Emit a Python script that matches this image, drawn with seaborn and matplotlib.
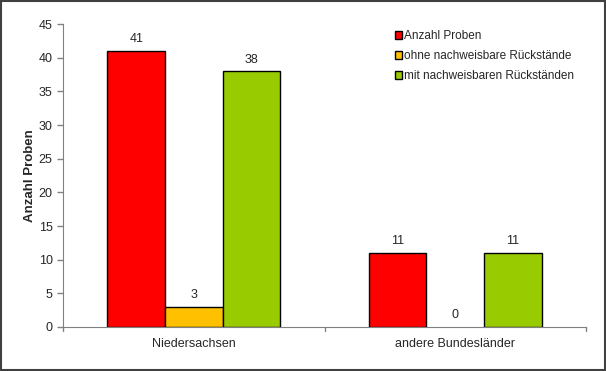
import matplotlib.pyplot as plt
import pandas as pd
import seaborn as sns

regions = ["Niedersachsen", "andere Bundesländer"]
series = ["Anzahl Proben", "ohne nachweisbare Rückstände", "mit nachweisbaren Rückständen"]
anzahl = [41, 11]
ohne = [3, 0]
mit = [38, 11]
colors = ["#FF0000", "#FFC000", "#99CC00"]

df = pd.DataFrame({
    "Region": regions * 3,
    "Serie": [series[0]] * 2 + [series[1]] * 2 + [series[2]] * 2,
    "Wert": anzahl + ohne + mit,
})

sns.set_style("white")
plt.rcParams['font.family'] = ['Liberation Sans', 'DejaVu Sans']

fig = plt.figure(figsize=(6.06, 3.71), dpi=100)
ax = fig.add_axes([0.104, 0.1186, 0.863, 0.8164])

sns.barplot(data=df, x="Region", y="Wert", hue="Serie", order=regions, hue_order=series,
            palette=colors, width=0.66, gap=0, edgecolor="black", linewidth=1,
            saturation=1, ax=ax, legend=True)

for c in ax.containers:
    for bar in c:
        if bar.get_height() == 0:
            bar.set_linewidth(0)
    ax.bar_label(c, fmt="%d", padding=4, fontsize=9)

ax.set_xlim(-0.5, 1.5)
ax.set_ylim(0, 45)
ax.set_yticks(range(0, 46, 5))
ax.set_xticks([0, 1])
ax.set_xticklabels(regions, fontsize=9)
ax.tick_params(axis="x", length=0, pad=8)
for xb in [-0.5, 0.5, 1.5]:
    ax.plot([xb, xb], [0, -0.012], transform=ax.get_xaxis_transform(), color="#808080",
            lw=1, clip_on=False)
ax.tick_params(axis="y", left=True, length=4, color="#808080", labelsize=9, width=1)
ax.set_xlabel("")
ax.set_ylabel("Anzahl Proben", fontsize=9.5, fontweight="bold", labelpad=2)

for s in ["top", "right"]:
    ax.spines[s].set_visible(False)
ax.spines["left"].set_color("#808080")
ax.spines["bottom"].set_color("#808080")

leg = ax.legend(loc="upper right", bbox_to_anchor=(0.998, 1.015), frameon=False, fontsize=8.5,
                handlelength=0.6, handleheight=0.6, handletextpad=0.2, labelspacing=0.68)

fig.patches.append(plt.Rectangle((0.001, 0.002), 0.997, 0.995, transform=fig.transFigure,
                                 fill=False, edgecolor="#404040", lw=1.5))

fig.savefig("out.png", dpi=100)
